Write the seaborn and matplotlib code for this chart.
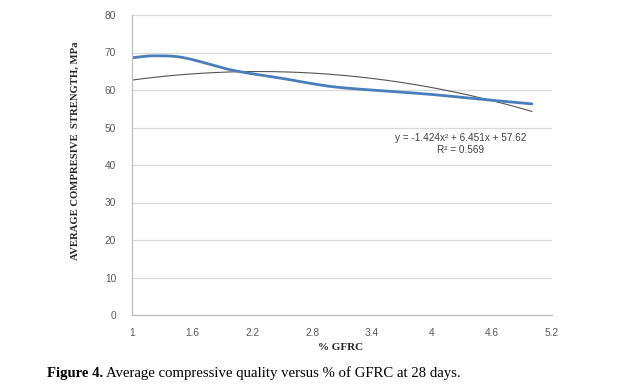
import numpy as np
import pandas as pd
import matplotlib
matplotlib.use("Agg")
import matplotlib.pyplot as plt
import seaborn as sns

# ---- data ----
pct_gfrc = [1.0, 1.2, 1.5, 2.0, 2.5, 3.0, 3.5, 4.0, 4.5, 5.0]
avg_strength = [68.6, 69.1, 68.7, 65.3, 63.1, 60.9, 59.8, 58.8, 57.5, 56.3]
trend_coef = [-1.424, 6.451, 57.62]   # y = a x^2 + b x + c
trend_range = [1.0, 5.0]
r_squared = 0.569
x_ticks = [1, 1.6, 2.2, 2.8, 3.4, 4, 4.6, 5.2]
x_tick_labels = ["1", "1.6", "2.2", "2.8", "3.4", "4", "4.6", "5.2"]
y_ticks = [0, 10, 20, 30, 40, 50, 60, 70, 80]

sns.set_style("white")
plt.rcParams["font.family"] = ["Liberation Sans", "DejaVu Sans"]


def smooth(xs, ys, n=30):
    """Cubic Hermite (Catmull-Rom style) smoothing through the points."""
    xs = np.asarray(xs, float)
    ys = np.asarray(ys, float)
    m = np.zeros_like(ys)
    m[1:-1] = (ys[2:] - ys[:-2]) / (xs[2:] - xs[:-2])
    m[0] = (ys[1] - ys[0]) / (xs[1] - xs[0])
    m[-1] = (ys[-1] - ys[-2]) / (xs[-1] - xs[-2])
    ox, oy = [], []
    for i in range(len(xs) - 1):
        h = xs[i + 1] - xs[i]
        t = np.linspace(0, 1, n, endpoint=False)
        h00 = 2 * t**3 - 3 * t**2 + 1
        h10 = t**3 - 2 * t**2 + t
        h01 = -2 * t**3 + 3 * t**2
        h11 = t**3 - t**2
        ox.extend(xs[i] + t * h)
        oy.extend(h00 * ys[i] + h10 * h * m[i] + h01 * ys[i + 1] + h11 * h * m[i + 1])
    ox.append(xs[-1])
    oy.append(ys[-1])
    return np.array(ox), np.array(oy)


sx, sy = smooth(pct_gfrc, avg_strength)
df_line = pd.DataFrame({"x": sx, "y": sy})

tx = np.linspace(trend_range[0], trend_range[1], 200)
a, b, c = trend_coef
df_trend = pd.DataFrame({"x": tx, "y": a * tx**2 + b * tx + c})

W, H = 640, 386
fig = plt.figure(figsize=(6.4, 3.86), dpi=100)
ax = fig.add_axes([132 / W, 1 - 315 / H, 420 / W, 300 / H])

sns.lineplot(data=df_trend, x="x", y="y", ax=ax, color="#555555", lw=0.8, sort=False)
sns.lineplot(data=df_line, x="x", y="y", ax=ax, color="#4a7ebb", lw=2.0, sort=False)

ax.set_xlim(1, 5.2)
ax.set_ylim(0, 80)
ax.set_xticks(x_ticks)
ax.set_xticklabels(x_tick_labels)
ax.set_yticks(y_ticks)
ax.yaxis.grid(True, color="#d9d9d9", lw=0.9)
ax.set_axisbelow(True)
for s in ["top", "right"]:
    ax.spines[s].set_visible(False)
for s in ["left", "bottom"]:
    ax.spines[s].set_color("#bfbfbf")
    ax.spines[s].set_linewidth(0.9)
ax.tick_params(axis="both", colors="#bfbfbf", labelcolor="#595959", labelsize=7.3,
               length=3.5, width=0.9, direction="out")
ax.tick_params(axis="x", pad=6)
ax.tick_params(axis="y", pad=8)
ax.set_xlabel("")
ax.set_ylabel("")

fig.text(461 / W, 1 - 138 / H, "y = -1.424x² + 6.451x + 57.62", ha="center", va="center",
         fontsize=7.2, color="#404040")
fig.text(461 / W, 1 - 150 / H, f"R² = {r_squared}", ha="center", va="center",
         fontsize=7.2, color="#404040")

serif = ["Liberation Serif", "DejaVu Serif"]
fig.text(75 / W, 1 - 151 / H, "AVERAGE COMPRESIVE  STRENGTH, MPa", rotation=90,
         ha="center", va="center", fontsize=7.7, fontweight="bold", family=serif, color="#262626")
fig.text(341 / W, 1 - 347 / H, "% GFRC", ha="center", va="center", fontsize=8,
         fontweight="bold", family=serif, color="#262626")
t1 = fig.text(47 / W, 1 - 373 / H, "Figure 4.", ha="left", va="center", fontsize=10.6,
              fontweight="bold", family=serif, color="black")

# caption: regular part placed right after the bold part
r = fig.canvas.get_renderer()
bb = t1.get_window_extent(renderer=r)
fig.text((bb.x1 + 3) / W, 1 - 373 / H,
         "Average compressive quality versus % of GFRC at 28 days.",
         ha="left", va="center", fontsize=10.6, family=serif, color="black")

fig.savefig("out.png", dpi=100)
